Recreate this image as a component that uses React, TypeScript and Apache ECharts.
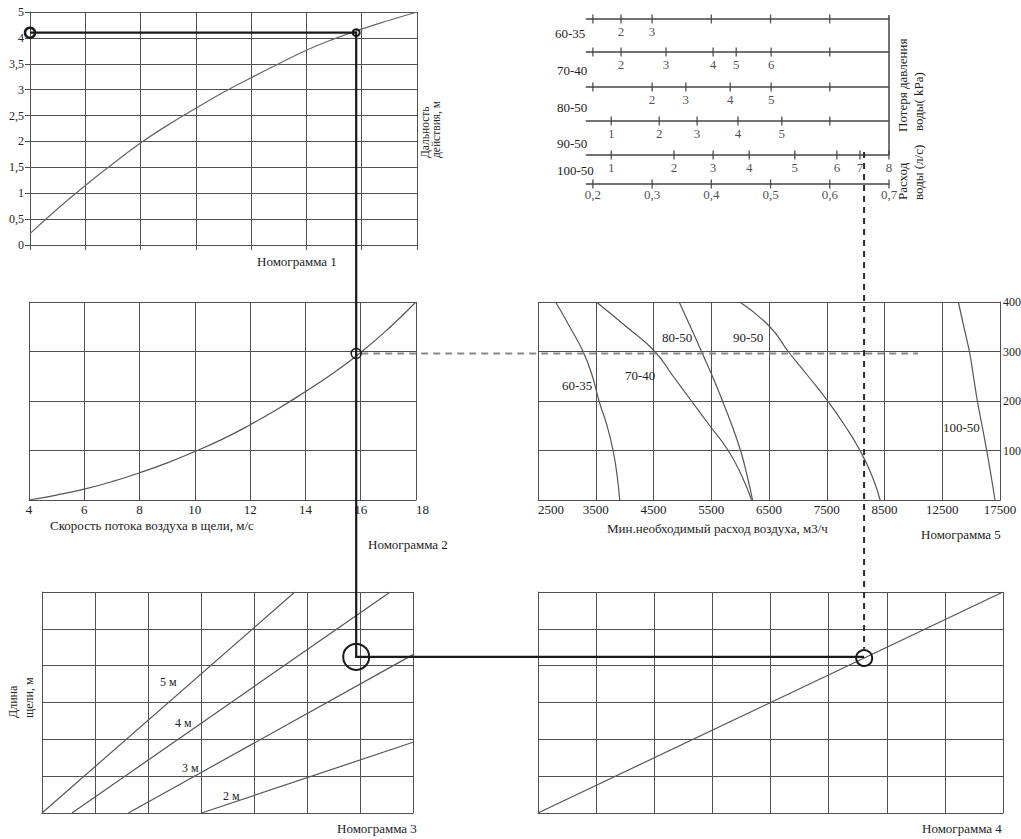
import React, { useEffect, useRef } from "react";
import * as echarts from "echarts";

const FONT = "Liberation Serif";
const TXT = "#222";
const GRID = "#505050";
const CURVE = "#555";

// ---------- Nomogram 1 : range of action vs. slot air speed ----------
const n1Speed = [4, 5, 6, 7, 8, 9, 10, 11, 12, 13, 14, 15, 16, 17, 18];
const n1Range = [0.22, 0.7, 1.15, 1.57, 1.97, 2.32, 2.64, 2.95, 3.23, 3.5, 3.76, 3.98, 4.17, 4.34, 4.5];
const n1YLabels = ["0", "0,5", "1", "1,5", "2", "2,5", "3", "3,5", "4", "5"];

// ---------- Nomogram 2 : slot air speed ----------
const n2Speed = [4, 5, 6, 7, 8, 9, 10, 11, 12, 13, 14, 15, 16, 17, 18];
const n2Value = [0, 10, 22, 37, 55, 75, 98, 123, 152, 184, 219, 256, 298, 346, 400];

// ---------- Nomogram 5 : min. required air flow ----------
const n5XTicks = [2500, 3500, 4500, 5500, 6500, 7500, 8500, 12500, 17500];
const n5Levels = [400, 350, 300, 250, 200, 150, 100, 50, 0];
const c6035Air = [2806, 3049, 3280, 3442, 3557, 3696, 3800, 3869, 3915];
const c7040Air = [3511, 4031, 4522, 4840, 5157, 5475, 5793, 6024, 6197];
const c8050Air = [4944, 5140, 5331, 5520, 5695, 5860, 6007, 6120, 6215];
const c9050Air = [5995, 6515, 6833, 7180, 7515, 7815, 8075, 8280, 8425];
const c10050Air = [13895, 14370, 14850, 15200, 15540, 15950, 16350, 16720, 17070];

// ---------- Nomogram 3 : slot length lines (grid units) ----------
const n3Line5 = [[0, 0], [4.77, 6]];
const n3Line4 = [[0.565, 0], [6.57, 6]];
const n3Line3 = [[1.63, 0], [7, 4.3]];
const n3Line2 = [[3.01, 0], [7, 1.92]];

// ---------- Nomogram 4 ----------
const n4Line = [[0, 0], [8, 6]];

// ---------- Top scale : water pressure loss (kPa) vs. water flow (l/s) ----------
const flowTicks = [0.2, 0.3, 0.4, 0.5, 0.6, 0.7];
const flowTickLabels = ["0,2", "0,3", "0,4", "0,5", "0,6", "0,7"];
const rowNames = ["60-35", "70-40", "80-50", "90-50", "100-50"];
const row6035Kpa = ["2", "3"];
const row6035Flow = [0.2475, 0.3];
const row6035Plain = [0.2, 0.4, 0.5, 0.6];
const row7040Kpa = ["2", "3", "4", "5", "6"];
const row7040Flow = [0.2475, 0.3235, 0.403, 0.442, 0.501];
const row7040Plain = [0.2, 0.6];
const row8050Kpa = ["2", "3", "4", "5"];
const row8050Flow = [0.3, 0.357, 0.432, 0.501];
const row8050Plain = [0.2, 0.6];
const row9050Kpa = ["1", "2", "3", "4", "5"];
const row9050Flow = [0.231, 0.312, 0.376, 0.445, 0.519];
const row9050Plain = [0.6];
const row10050Kpa = ["1", "2", "3", "4", "5", "6", "7", "8"];
const row10050Flow = [0.231, 0.337, 0.403, 0.464, 0.541, 0.612, 0.651, 0.7];
const row10050Plain: number[] = [];

// ---------- worked example (reading path) ----------
const readSpeed = 15.8;
const readRange = 4.1;
const readN2 = 296;
const readN3 = [5.94, 4.24];
const readN4 = [5.61, 4.24];
const readAirEnd = 10820;
const readWaterFlow = 0.658;

// ---------- layout ----------
const ROW_Y = [165, 132, 97, 63, 29]; // top-scale rows in its own y units (0 = bottom axis)
const TOP_Y_MAX = 169;

const toIdx5 = (v: number) => {
  for (let i = 0; i < n5XTicks.length - 1; i++) {
    if (v <= n5XTicks[i + 1]) return i + (v - n5XTicks[i]) / (n5XTicks[i + 1] - n5XTicks[i]);
  }
  return n5XTicks.length - 1;
};

const zip = (xs: number[], ys: number[]) => xs.map((x, i) => [x, ys[i]]);

const baseAxis = (extra: any) => ({
  type: "value",
  axisLine: { show: true, onZero: false, lineStyle: { color: GRID, width: 1 } },
  axisTick: { show: false },
  axisLabel: { show: false },
  splitLine: { show: true, lineStyle: { color: GRID, width: 1 } },
  ...extra,
});

const lbl = (extra: any) => ({
  show: true,
  color: TXT,
  fontFamily: FONT,
  fontSize: 13,
  ...extra,
});

const curve = (xi: number, data: number[][], smooth = true, color = CURVE) => ({
  type: "line",
  xAxisIndex: xi,
  yAxisIndex: xi,
  data,
  smooth,
  symbol: "none",
  silent: true,
  lineStyle: { color, width: 1.2 },
});

const gridBox = (left: number, top: number, width: number, height: number) => ({
  left,
  top,
  width,
  height,
  containLabel: false,
  outerBoundsMode: "none",
});

export default function App() {
  const ref = useRef<HTMLDivElement>(null);

  useEffect(() => {
    const chart = echarts.init(ref.current!, null, { renderer: "svg" });

    const rowsKpa = [row6035Kpa, row7040Kpa, row8050Kpa, row9050Kpa, row10050Kpa];
    const rowsFlow = [row6035Flow, row7040Flow, row8050Flow, row9050Flow, row10050Flow];
    const rowsPlain = [row6035Plain, row7040Plain, row8050Plain, row9050Plain, row10050Plain];

    const tickData: any[] = [];
    rowsKpa.forEach((labels, r) => {
      labels.forEach((l, i) => tickData.push({ name: l, value: [rowsFlow[r][i], ROW_Y[r]] }));
      rowsPlain[r].forEach((f) => tickData.push({ name: "", value: [f, ROW_Y[r]] }));
    });
    const axisTickData = flowTicks.map((f, i) => ({ name: flowTickLabels[i], value: [f, 0] }));

    const topLines: any[] = [...ROW_Y, 0].map((y) => ({
      type: "line",
      xAxisIndex: 5,
      yAxisIndex: 5,
      data: [[0.188, y], [0.7, y]],
      symbol: "none",
      clip: false,
      silent: true,
      lineStyle: { color: "#444", width: 1.5 },
    }));
    topLines.push({
      type: "line",
      xAxisIndex: 5,
      yAxisIndex: 5,
      data: [[0.7, TOP_Y_MAX], [0.7, ROW_Y[4]]],
      symbol: "none",
      clip: false,
      silent: true,
      lineStyle: { color: "#444", width: 1.5 },
    });

    const n5Curves = [c6035Air, c7040Air, c8050Air, c9050Air, c10050Air].map((air) =>
      curve(2, air.map((a, i) => [toIdx5(a), n5Levels[i]]))
    );

    const option: any = {
      animation: false,
      backgroundColor: "#fff",
      grid: [
        gridBox(30, 12, 387, 233),
        gridBox(29, 302, 387, 198),
        gridBox(538, 302, 462, 198),
        gridBox(42, 592, 371, 221),
        gridBox(538, 592, 465, 221),
        gridBox(584, 15, 305, TOP_Y_MAX),
      ],
      xAxis: [
        baseAxis({ gridIndex: 0, min: 4, max: 18, interval: 2, axisTick: { show: true, length: 5, lineStyle: { color: GRID } } }),
        baseAxis({
          gridIndex: 1, min: 4, max: 18, interval: 2,
          axisLabel: lbl({ margin: 3, alignMaxLabel: "left" }),
        }),
        baseAxis({
          gridIndex: 2, min: 0, max: 8, interval: 1,
          axisLabel: lbl({ margin: 3, alignMinLabel: "left", formatter: (v: number) => String(n5XTicks[Math.round(v)]) }),
        }),
        baseAxis({ gridIndex: 3, min: 0, max: 7, interval: 1 }),
        baseAxis({ gridIndex: 4, min: 0, max: 8, interval: 1 }),
        { type: "value", gridIndex: 5, min: 0.185, max: 0.7, show: false },
      ],
      yAxis: [
        baseAxis({
          gridIndex: 0, min: 0, max: 4.5, interval: 0.5,
          axisTick: { show: true, length: 5, lineStyle: { color: GRID } },
          axisLabel: lbl({ fontSize: 12, margin: 6, formatter: (v: number) => n1YLabels[Math.round(v / 0.5)] }),
        }),
        baseAxis({ gridIndex: 1, min: 0, max: 400, interval: 100 }),
        baseAxis({
          gridIndex: 2, min: 0, max: 400, interval: 100, position: "right",
          axisLabel: lbl({ fontSize: 12, margin: 3, formatter: (v: number) => (v === 0 ? "" : String(v)) }),
        }),
        baseAxis({ gridIndex: 3, min: 0, max: 6, interval: 1 }),
        baseAxis({ gridIndex: 4, min: 0, max: 6, interval: 1 }),
        { type: "value", gridIndex: 5, min: 0, max: TOP_Y_MAX, show: false },
      ],
      series: [
        curve(0, zip(n1Speed, n1Range), true, "#666"),
        curve(1, zip(n2Speed, n2Value)),
        ...n5Curves,
        curve(3, n3Line5, false),
        curve(3, n3Line4, false),
        curve(3, n3Line3, false),
        curve(3, n3Line2, false),
        curve(4, n4Line, false),
        ...topLines,
        {
          type: "scatter",
          xAxisIndex: 5,
          yAxisIndex: 5,
          data: tickData,
          symbol: "rect",
          symbolSize: [1.4, 9],
          clip: false,
          silent: true,
          itemStyle: { color: "#333" },
          label: lbl({ position: "bottom", distance: 1, formatter: "{b}" }),
        },
        {
          type: "scatter",
          xAxisIndex: 5,
          yAxisIndex: 5,
          data: axisTickData,
          symbol: "rect",
          symbolSize: [1.4, 9],
          clip: false,
          silent: true,
          itemStyle: { color: "#333" },
          label: lbl({ position: "bottom", distance: -1, formatter: "{b}" }),
        },
      ],
    };

    chart.setOption(option);

    const px = (g: number, v: number[]) => chart.convertToPixel({ gridIndex: g } as any, v) as number[];
    const pLeft = px(0, [4, readRange]);
    const p1 = px(0, [readSpeed, readRange]);
    const p2 = px(1, [readSpeed, readN2]);
    const p3 = px(3, readN3);
    const p4 = px(4, readN4);
    const pDashEnd = px(2, [toIdx5(readAirEnd), readN2]);
    const pTop = px(5, [readWaterFlow, ROW_Y[4]]);

    const text = (t: string, x: number, y: number, opts: any = {}) => ({
      type: "text",
      x,
      y,
      rotation: opts.rot ? Math.PI / 2 : 0,
      z: 60,
      silent: true,
      style: {
        text: t,
        fill: TXT,
        font: `${opts.size || 13}px "${FONT}"`,
        align: opts.align || "left",
        verticalAlign: "middle",
      },
    });

    const circle = (c: number[], r: number, w: number) => ({
      type: "circle",
      z: 70,
      silent: true,
      shape: { cx: c[0], cy: c[1], r },
      style: { fill: "none", stroke: "#1a1a1a", lineWidth: w },
    });

    const vx = p1[0];
    const elements: any[] = [
      // row names of the top scale
      text(rowNames[0], 555, 33),
      text(rowNames[1], 557, 70),
      text(rowNames[2], 557, 107),
      text(rowNames[3], 557, 143),
      text(rowNames[4], 557, 170),
      text("Потеря давления", 902, 132, { rot: true }),
      text("воды( kPa)", 918, 131, { rot: true }),
      text("Расход", 902, 200, { rot: true }),
      text("воды (л/с)", 918, 200, { rot: true }),
      // nomogram 1
      text("Дальность", 425, 158, { rot: true, size: 11.5 }),
      text("действия, м", 436, 158, { rot: true, size: 11.5 }),
      text("Номограмма 1", 257, 261),
      // nomogram 2
      text("Скорость потока воздуха в щели, м/с", 50, 525),
      text("Номограмма 2", 368, 544),
      // nomogram 5
      text("Мин.необходимый расход воздуха, м3/ч", 607, 528),
      text("Номограмма 5", 921, 534),
      text("60-35", 562, 385),
      text("70-40", 625, 375),
      text("80-50", 662, 337),
      text("90-50", 733, 337),
      text("100-50", 943, 427),
      // nomogram 3
      text("5 м", 160, 682, { size: 12 }),
      text("4 м", 175, 723, { size: 12 }),
      text("3 м", 182, 768, { size: 12 }),
      text("2 м", 223, 796, { size: 12 }),
      text("Длина", 13, 718, { rot: true, size: 12 }),
      text("щели, м", 29, 718, { rot: true, size: 12 }),
      text("Номограмма 3", 337, 828),
      // nomogram 4
      text("Номограмма 4", 922, 828),
      // reading path
      {
        type: "line",
        z: 55,
        silent: true,
        shape: { x1: p2[0] + 6, y1: p2[1], x2: pDashEnd[0], y2: p2[1] },
        style: { stroke: "#8a8a8a", lineWidth: 2, lineDash: [7, 5] },
      },
      {
        type: "line",
        z: 55,
        silent: true,
        shape: { x1: p4[0], y1: pTop[1] - 3, x2: p4[0], y2: p4[1] - 8 },
        style: { stroke: "#2a2a2a", lineWidth: 2, lineDash: [6, 5] },
      },
      {
        type: "polyline",
        z: 65,
        silent: true,
        shape: { points: [pLeft, p1, [vx, p3[1]], p4] },
        style: { fill: "none", stroke: "#1a1a1a", lineWidth: 2.2 },
      },
      circle(pLeft, 5, 2.5),
      circle(p1, 3.5, 2),
      circle([vx, p2[1]], 5, 1.5),
      circle([vx, p3[1]], 13, 2),
      circle(p4, 8, 2),
    ];

    chart.setOption({ graphic: { elements } });

    return () => chart.dispose();
  }, []);

  return (
    <div
      ref={ref}
      style={{ position: "absolute", left: 0, top: 0, width: 1021, height: 839, background: "#fff" }}
    />
  );
}
